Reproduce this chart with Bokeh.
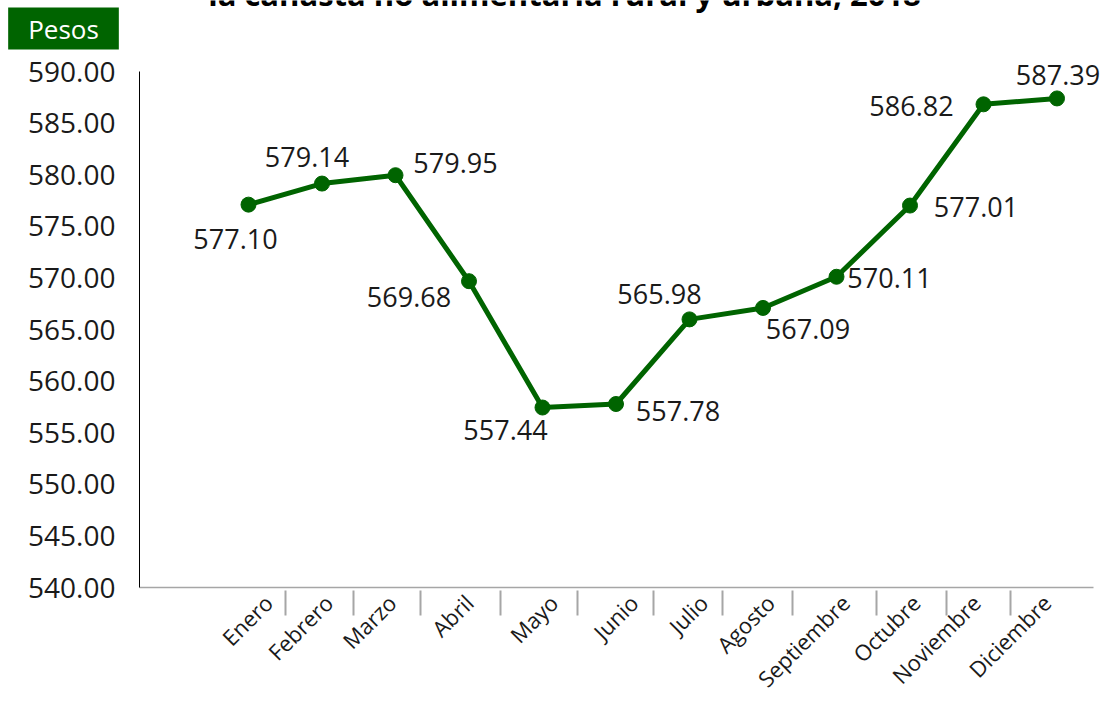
from bokeh.plotting import figure
from bokeh.models import (ColumnDataSource, Range1d, FixedTicker, NumeralTickFormatter,
                          Label, LabelSet)
from bokeh.core.properties import value
from bokeh.embed import file_html
from bokeh.resources import INLINE
import math

# ---- data ----
months = ["Enero", "Febrero", "Marzo", "Abril", "Mayo", "Junio", "Julio",
          "Agosto", "Septiembre", "Octubre", "Noviembre", "Diciembre"]
pesos = [577.10, 579.14, 579.95, 569.68, 557.44, 557.78, 565.98,
         567.09, 570.11, 577.01, 586.82, 587.39]
y_ticks = [540, 545, 550, 555, 560, 565, 570, 575, 580, 585, 590]
title_text = "la canasta no alimentaria rural y urbana, 2018"
unit_text = "Pesos"

# ---- layout constants (not data) ----
tick_shift = [0.27, 0.09, -0.05, 0.0, 0.15, 0.24, 0.19, 0.10, 0.12, 0.08, -0.10, -0.14]
separators = [0.50, 1.43, 2.34, 3.43, 4.48, 5.51, 6.45, 7.40, 8.54, 9.50, 10.37]
label_dx = [-13, -15, 60, -60, -37, 62, -30, 45, 53, 66, -72, 1]
label_dy = [34, -27, -12, 16, 22, 7, -25, 21, 1, 1, 2, -23]   # screen px, down

GREEN = "#006400"
FONT = "Open Sans"
TXT = "#1a1a1a"
W, H = 1110, 705

# pixel geometry: month spacing 73.5 px, first month at x=248 px;
# axes box from x=139 to x=1093, y=71 (590) to y=587 (540)
PX = 73.5
X0 = 248.0
AX_LEFT, AX_RIGHT = 139.0, 1093.0
PY = 10.32
AX_TOP, AX_BOTTOM = 71.0, 587.0
x_lo, x_hi = (0 - X0) / PX, (W - X0) / PX
x_axis_lo, x_axis_hi = (AX_LEFT - X0) / PX, (AX_RIGHT - X0) / PX
y_lo = 540 - (H - AX_BOTTOM) / PY
y_hi = 590 + AX_TOP / PY

idx = list(range(len(months)))
src = ColumnDataSource(dict(
    x=idx, y=pesos, lab=["%.2f" % v for v in pesos],
    dx=label_dx, dy_up=[-d for d in label_dy],
))

# the frame covers the whole canvas so no text is clipped by it;
# both axes are drawn at fixed locations inside it
p = figure(width=W, height=H, output_backend="svg", toolbar_location=None,
           x_range=Range1d(x_lo, x_hi), y_range=Range1d(y_lo, y_hi),
           min_border_left=0, min_border_right=0, min_border_top=0,
           min_border_bottom=0)
p.outline_line_color = None
p.grid.visible = False
p.background_fill_color = "white"
p.border_fill_color = "white"

# y axis
ya = p.yaxis[0]
ya.fixed_location = x_axis_lo
ya.bounds = (540, 590)
ya.ticker = FixedTicker(ticks=y_ticks)
ya.formatter = NumeralTickFormatter(format="0.00")
ya.axis_line_color = "black"
ya.axis_line_width = 1
ya.major_tick_line_color = None
ya.major_tick_out = 0
ya.major_tick_in = 0
ya.minor_tick_line_color = None
ya.minor_tick_out = 0
ya.minor_tick_in = 0
ya.major_label_standoff = 24
ya.major_label_text_font = FONT
ya.major_label_text_font_size = "28px"
ya.major_label_text_color = TXT

# x axis: month labels on major ticks, separators as minor ticks
xa = p.xaxis[0]
xa.fixed_location = 540
xa.bounds = (x_axis_lo, x_axis_hi)
xa.ticker = FixedTicker(ticks=[i + s for i, s in zip(idx, tick_shift)],
                        minor_ticks=separators)
xa.major_label_overrides = {i + s: m for i, s, m in zip(idx, tick_shift, months)}
xa.major_label_orientation = math.pi / 4
xa.major_label_standoff = -17
xa.major_label_text_font = FONT
xa.major_label_text_font_size = "22px"
xa.major_label_text_color = TXT
xa.major_tick_line_color = None
xa.major_tick_out = 0
xa.major_tick_in = 0
xa.axis_line_color = "#a6a6a6"
xa.axis_line_width = 1.5
xa.minor_tick_line_color = "#a6a6a6"
xa.minor_tick_line_width = 2
xa.minor_tick_in = -3
xa.minor_tick_out = 28

# series
p.line("x", "y", source=src, line_color=GREEN, line_width=5)
p.scatter("x", "y", source=src, size=15, fill_color=GREEN, line_color=GREEN)
p.add_layout(LabelSet(x="x", y="y", text="lab", source=src,
                      x_offset="dx", y_offset="dy_up",
                      text_align="center", text_baseline="middle",
                      text_font=value(FONT), text_font_size="27px",
                      text_color=TXT))

# unit badge (screen units from the frame's bottom-left corner)
p.add_layout(Label(x=63, y=H - 28, x_units="screen", y_units="screen",
                   text=unit_text, text_align="center", text_baseline="middle",
                   text_font=FONT, text_font_size="26px", text_color="white",
                   background_fill_color=GREEN, padding=(20, 3)))

# title line, clipped at the top edge as in the reference
p.add_layout(Label(x=564, y=H + 7, x_units="screen", y_units="screen",
                   text=title_text, text_align="center", text_baseline="alphabetic",
                   text_font=FONT, text_font_style="bold", text_font_size="31px",
                   text_color="black"))

open("out.html", "w").write(file_html(p, INLINE))
